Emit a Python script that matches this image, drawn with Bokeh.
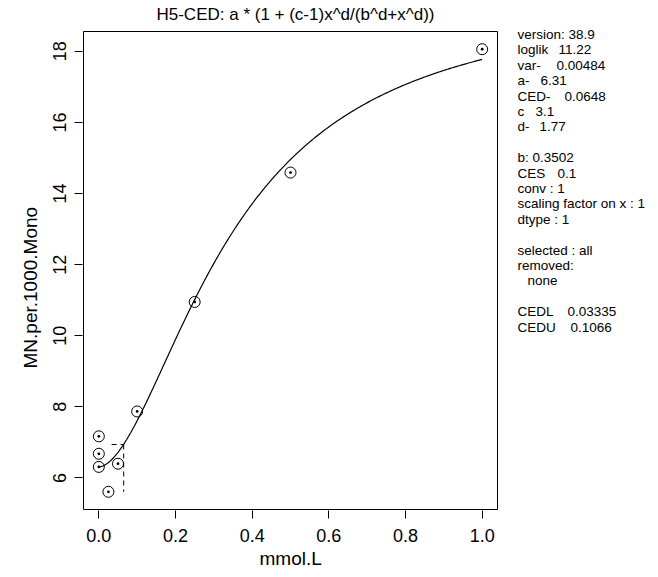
import numpy as np
from bokeh.plotting import figure
from bokeh.models import Range1d, FixedTicker, CustomJSTickFormatter, ColumnDataSource, Title
from bokeh.core.properties import value
from bokeh.embed import file_html
from bokeh.resources import INLINE

# ---- data ----
dose = [0.0, 0.0, 0.0, 0.025, 0.05, 0.1, 0.25, 0.5, 1.0]
response = [7.17, 6.68, 6.31, 5.61, 6.40, 7.87, 10.95, 14.59, 18.06]

# fitted model parameters (as printed on the chart)
par_a = 6.31
par_b = 0.3502
par_c = 3.1
par_d = 1.77
ced = 0.0648
ces = 0.1
cedl = 0.03335
cedu = 0.1066

x_ticks = [0.0, 0.2, 0.4, 0.6, 0.8, 1.0]
x_tick_labels = ["0.0", "0.2", "0.4", "0.6", "0.8", "1.0"]
y_ticks = [6, 8, 10, 12, 14, 16, 18]
y_tick_labels = ["6", "8", "10", "12", "14", "16", "18"]

title_text = "H5-CED: a * (1 + (c-1)x^d/(b^d+x^d))"
x_label = "mmol.L"
y_label = "MN.per.1000.Mono"

info_keys = ["version: 38.9", "loglik", "var-", "a-", "CED-", "c", "d-", "",
             "b:  0.3502", "CES", "conv :  1", "scaling factor on x :  1", "dtype :  1", "",
             "selected :  all", "removed:", "none", "",
             "CEDL", "CEDU"]
info_values = ["", "11.22", "0.00484", "6.31", "0.0648", "3.1", "1.77", "",
               "", "0.1", "", "", "", "",
               "", "", "", "",
               "0.03335", "0.1066"]

# ---- layout / style (not data) ----
FONT = "Liberation Sans"
W, H = 658, 577
FR_L, FR_R, FR_T, FR_B = 82, 658, 0, 510      # plotting frame (page px)
BOX_L, BOX_R, BOX_T, BOX_B = 83, 497, 31, 509  # R plot box (page px)
value_offsets = [0, 41, 39, 23, 47, 18, 22, 0,
                 0, 40, 0, 0, 0, 0,
                 0, 0, 0, 0,
                 50, 53]
key_indents = [0] * 16 + [10] + [0, 0, 0]
KEY_X = 517
LINE0 = 34
LINE_H = 15.4
TITLE_X, TITLE_Y = 295, 14

# model curve from the printed parameters
xs = np.linspace(0.0, 1.0, 400)
ys = par_a * (1 + (par_c - 1) * xs ** par_d / (par_b ** par_d + xs ** par_d))
y_ced = par_a * (1 + ces)

# R-style axis limits (4 % extension)
xr = max(dose) - min(dose)
x_lo, x_hi = min(dose) - 0.04 * xr, max(dose) + 0.04 * xr
yr = max(response) - min(response)
y_lo, y_hi = min(response) - 0.04 * yr, max(response) + 0.04 * yr

# extend the ranges so that the R box sits at its place inside a larger frame
kx = (x_hi - x_lo) / (BOX_R - BOX_L)
ky = (y_hi - y_lo) / (BOX_B - BOX_T)
x_range = Range1d(x_lo - (BOX_L - FR_L) * kx, x_hi + (FR_R - BOX_R) * kx)
y_range = Range1d(y_lo - (FR_B - BOX_B) * ky, y_hi + (BOX_T - FR_T) * ky)

p = figure(width=W, height=H, output_backend="svg", toolbar_location=None,
           x_range=x_range, y_range=y_range,
           min_border_left=FR_L, min_border_right=W - FR_R,
           min_border_top=FR_T, min_border_bottom=H - FR_B)
p.extra_x_ranges = {"px": Range1d(FR_L, FR_R)}
p.extra_y_ranges = {"py": Range1d(FR_B, FR_T)}
p.title.visible = False
p.grid.visible = False
p.background_fill_color = "white"
p.border_fill_color = "white"
p.outline_line_color = None

for ax, ticks, labels in ((p.xaxis[0], x_ticks, x_tick_labels),
                          (p.yaxis[0], y_ticks, y_tick_labels)):
    ax.ticker = FixedTicker(ticks=ticks)
    ax.formatter = CustomJSTickFormatter(args=dict(labels=labels), code="return labels[index];")
    ax.axis_line_color = None
    ax.major_tick_line_color = "black"
    ax.major_tick_out = 8
    ax.major_tick_in = 0
    ax.minor_tick_line_color = None
    ax.major_label_text_font = FONT
    ax.major_label_text_font_size = "18px"
    ax.major_label_text_color = "black"

p.xaxis.major_label_standoff = 10
p.yaxis.major_label_orientation = "vertical"
p.yaxis.major_label_standoff = 8

# axis titles
p.add_layout(Title(text=x_label, align="left", offset=177, standoff=3, text_font=FONT,
                   text_font_size="19px", text_font_style="normal", text_color="black"), "below")
p.add_layout(Title(text=y_label, align="left", offset=142, standoff=20, text_font=FONT,
                   text_font_size="19px", text_font_style="normal", text_color="black"), "left")

# plot box
p.quad(left=[x_lo], right=[x_hi], bottom=[y_lo], top=[y_hi], fill_color=None,
       line_color="black", line_width=1)
# fitted curve
p.line(xs, ys, line_color="black", line_width=1.2)
# CED marks
p.line([cedl, ced], [y_ced, y_ced], line_color="black", line_dash="5 4", line_width=1)
p.line([ced, ced], [y_ced, min(response)], line_color="black", line_dash="5 4", line_width=1)
# observations
p.scatter(dose, response, marker="circle_dot", size=11, fill_color=None,
          line_color="black", line_width=1)

# main title
p.text(x=[TITLE_X], y=[TITLE_Y], text=[title_text], x_range_name="px", y_range_name="py",
       text_align="center", text_baseline="middle", text_font=value(FONT),
       text_font_size="17px", text_color="black")

# info panel
tx, ty, tt = [], [], []
for i, (k, v) in enumerate(zip(info_keys, info_values)):
    yy = LINE0 + i * LINE_H
    if k:
        tx.append(KEY_X + key_indents[i]); ty.append(yy); tt.append(k)
    if v:
        tx.append(KEY_X + value_offsets[i]); ty.append(yy); tt.append(v)
src = ColumnDataSource(dict(x=tx, y=ty, t=tt))
p.text(x="x", y="y", text="t", source=src, x_range_name="px", y_range_name="py",
       text_align="left", text_baseline="middle",
       text_font=value(FONT), text_font_size="13.5px", text_color="black")

open("out.html", "w").write(file_html(p, INLINE))
